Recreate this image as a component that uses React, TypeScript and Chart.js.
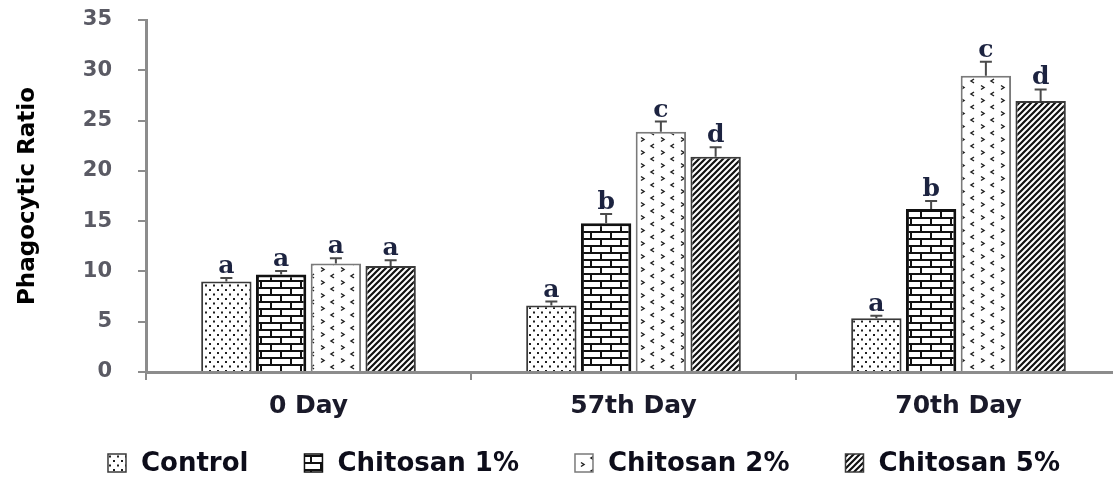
import React, { useEffect, useRef } from 'react';
import { Chart, registerables } from 'chart.js';

Chart.register(...registerables);

// Sampling days on the x axis
const categories = ['0 Day', '57th Day', '70th Day'];

// Treatment groups
const seriesNames = ['Control', 'Chitosan 1%', 'Chitosan 2%', 'Chitosan 5%'];

// Mean phagocytic ratio per group and day
const controlValues = [9.0, 6.6, 5.35];
const chitosan1Values = [9.7, 14.8, 16.2];
const chitosan2Values = [10.8, 23.9, 29.45];
const chitosan5Values = [10.55, 21.4, 26.95];

// Standard errors (upper whisker only)
const controlErrors = [0.35, 0.4, 0.25];
const chitosan1Errors = [0.35, 0.9, 0.8];
const chitosan2Errors = [0.5, 1.0, 1.4];
const chitosan5Errors = [0.55, 0.95, 1.15];

// Significance letters above each bar
const controlLetters = ['a', 'a', 'a'];
const chitosan1Letters = ['a', 'b', 'b'];
const chitosan2Letters = ['a', 'c', 'c'];
const chitosan5Letters = ['a', 'd', 'd'];

// Y axis range
const yMin = 0;
const yMax = 35;
const yStep = 5;

type Tile = (g: CanvasRenderingContext2D) => void;

function makePattern(w: number, h: number, draw: Tile): CanvasPattern {
  const c = document.createElement('canvas');
  c.width = w;
  c.height = h;
  const g = c.getContext('2d')!;
  g.fillStyle = '#ffffff';
  g.fillRect(0, 0, w, h);
  draw(g);
  return g.createPattern(c, 'repeat')!;
}

function dotsPattern() {
  return makePattern(8, 9, (g) => {
    g.fillStyle = '#1f1f1f';
    g.fillRect(1, 1, 2, 2);
    g.fillRect(5, 5.5, 2, 2);
  });
}

function bricksPattern() {
  return makePattern(20, 14, (g) => {
    g.fillStyle = '#111111';
    g.fillRect(0, 0, 20, 2);
    g.fillRect(0, 7, 20, 2);
    g.fillRect(0, 2, 2, 5);
    g.fillRect(10, 9, 2, 5);
  });
}

function chevronPattern() {
  return makePattern(20, 13, (g) => {
    g.strokeStyle = '#222222';
    g.lineWidth = 1.5;
    g.beginPath();
    // '<'
    g.moveTo(14, 1);
    g.lineTo(11, 3);
    g.lineTo(14, 5);
    // '>'
    g.moveTo(1, 7.5);
    g.lineTo(4, 9.5);
    g.lineTo(1, 11.5);
    g.stroke();
  });
}

function stripesPattern() {
  return makePattern(6, 6, (g) => {
    g.strokeStyle = '#111111';
    g.lineWidth = 2.2;
    g.beginPath();
    g.moveTo(-1, 7);
    g.lineTo(7, -1);
    g.moveTo(-1, 1);
    g.lineTo(1, -1);
    g.moveTo(5, 7);
    g.lineTo(7, 5);
    g.stroke();
  });
}

interface Series {
  name: string;
  values: number[];
  errors: number[];
  letters: string[];
  fill: CanvasPattern;
  border: string;
  borderWidth: number;
}

export default function App() {
  const canvasRef = useRef<HTMLCanvasElement | null>(null);

  useEffect(() => {
    const canvas = canvasRef.current;
    if (!canvas) return;

    const series: Series[] = [
      { name: seriesNames[0], values: controlValues, errors: controlErrors, letters: controlLetters, fill: dotsPattern(), border: '#3a3a3a', borderWidth: 2 },
      { name: seriesNames[1], values: chitosan1Values, errors: chitosan1Errors, letters: chitosan1Letters, fill: bricksPattern(), border: '#111111', borderWidth: 3 },
      { name: seriesNames[2], values: chitosan2Values, errors: chitosan2Errors, letters: chitosan2Letters, fill: chevronPattern(), border: '#7a7a7a', borderWidth: 2 },
      { name: seriesNames[3], values: chitosan5Values, errors: chitosan5Errors, letters: chitosan5Letters, fill: stripesPattern(), border: '#3a3a3a', borderWidth: 2 },
    ];

    const errorBarsAndLetters = {
      id: 'errorBarsAndLetters',
      afterDatasetsDraw(chart: Chart) {
        const ctx = chart.ctx;
        const yScale = chart.scales.y;
        series.forEach((s, i) => {
          const meta = chart.getDatasetMeta(i);
          meta.data.forEach((bar: any, j: number) => {
            const top = yScale.getPixelForValue(s.values[j] + s.errors[j]);
            ctx.save();
            ctx.strokeStyle = '#4a4a4a';
            ctx.lineWidth = 2;
            ctx.beginPath();
            ctx.moveTo(bar.x, bar.y);
            ctx.lineTo(bar.x, top);
            ctx.moveTo(bar.x - 6, top);
            ctx.lineTo(bar.x + 6, top);
            ctx.stroke();
            ctx.font = 'bold 25px "DejaVu Serif"';
            ctx.fillStyle = '#1c2340';
            ctx.textAlign = 'center';
            ctx.textBaseline = 'alphabetic';
            ctx.fillText(s.letters[j], bar.x, top - 5);
            ctx.restore();
          });
        });
      },
    };

    const bottomLegend = {
      id: 'bottomLegend',
      afterDraw(chart: Chart) {
        const ctx = chart.ctx;
        const box = 18;
        const textGap = 15;
        const itemGap = 56;
        const centerX = 584;
        const centerY = 463;
        ctx.save();
        ctx.font = 'bold 26px "DejaVu Sans"';
        const widths = series.map((s) => ctx.measureText(s.name).width);
        const total = widths.reduce((a, w) => a + box + textGap + w, 0) + itemGap * (series.length - 1);
        let x = centerX - total / 2;
        series.forEach((s, i) => {
          ctx.fillStyle = s.fill;
          ctx.fillRect(x, centerY - box / 2, box, box);
          ctx.strokeStyle = s.border;
          ctx.lineWidth = 1.5;
          ctx.strokeRect(x, centerY - box / 2, box, box);
          ctx.fillStyle = '#0d0d1a';
          ctx.textAlign = 'left';
          ctx.textBaseline = 'middle';
          ctx.fillText(s.name, x + box + textGap, centerY + 1);
          x += box + textGap + widths[i] + itemGap;
        });
        ctx.restore();
      },
    };

    const axisColor = '#8c8c8c';

    const chart = new Chart(canvas, {
      type: 'bar',
      data: {
        labels: categories,
        datasets: series.map((s) => ({
          label: s.name,
          data: s.values,
          backgroundColor: s.fill,
          borderColor: s.border,
          borderWidth: s.borderWidth,
          categoryPercentage: 0.674,
          barPercentage: 0.92,
        })),
      },
      options: {
        animation: false,
        responsive: true,
        maintainAspectRatio: false,
        layout: { padding: { left: 0, right: 9, top: 20, bottom: 56 } },
        plugins: {
          legend: { display: false },
          tooltip: { enabled: false },
        },
        scales: {
          x: {
            offset: true,
            grid: {
              display: true,
              drawOnChartArea: false,
              drawTicks: true,
              tickLength: 8,
              color: axisColor,
              lineWidth: 2,
              offset: true,
            },
            border: { display: true, color: axisColor, width: 3 },
            ticks: {
              font: { family: 'DejaVu Sans', weight: 'bold', size: 25 },
              color: '#1a1a2a',
              padding: 11,
              maxRotation: 0,
              autoSkip: false,
            },
            afterFit: (scale: any) => {
              scale.height = 50;
            },
          },
          y: {
            min: yMin,
            max: yMax,
            grid: {
              display: true,
              drawOnChartArea: false,
              drawTicks: true,
              tickLength: 8,
              color: axisColor,
              lineWidth: 2,
            },
            border: { display: true, color: axisColor, width: 3 },
            ticks: {
              stepSize: yStep,
              font: { family: 'DejaVu Sans', weight: 'bold', size: 21 },
              color: '#5a5a64',
              padding: 26,
            },
            title: {
              display: true,
              text: 'Phagocytic Ratio',
              font: { family: 'DejaVu Sans', weight: 'bold', size: 23 },
              color: '#000000',
              padding: { top: 14, bottom: 0 },
            },
            afterFit: (scale: any) => {
              // keep the horizontal label gap from reserving vertical room
              scale.width = 146;
              scale.paddingTop = 12;
              scale.paddingBottom = 12;
            },
          },
        },
      },
      plugins: [errorBarsAndLetters, bottomLegend],
    });

    return () => {
      chart.destroy();
    };
  }, []);

  return (
    <div style={{ position: 'fixed', left: 0, top: 0, width: 1130, height: 478, background: '#ffffff' }}>
      <canvas ref={canvasRef} />
    </div>
  );
}
